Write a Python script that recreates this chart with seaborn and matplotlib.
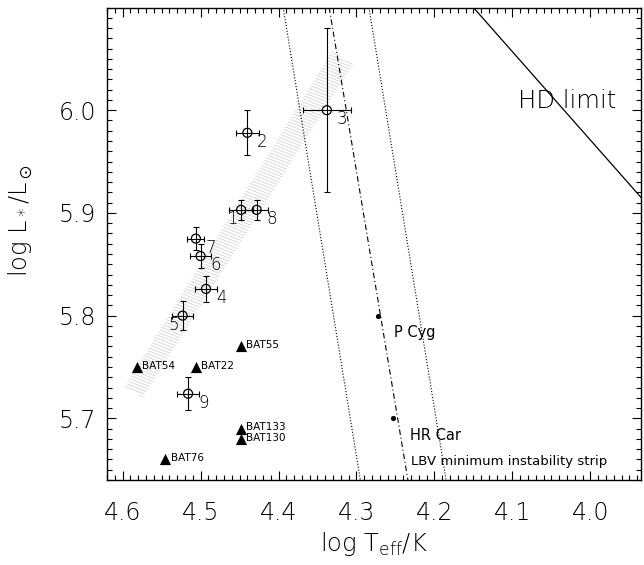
import matplotlib
matplotlib.use("Agg")
import matplotlib.pyplot as plt
from matplotlib.patches import Polygon
from matplotlib.collections import LineCollection
from matplotlib.ticker import MultipleLocator, FormatStrFormatter
import seaborn as sns
import pandas as pd
import numpy as np

# numbered stars with error bars
star_ids = ["1", "2", "3", "4", "5", "6", "7", "8", "9"]
star_logT = [4.448, 4.440, 4.338, 4.493, 4.523, 4.500, 4.506, 4.428, 4.516]
star_logL = [5.903, 5.978, 6.000, 5.826, 5.800, 5.858, 5.875, 5.903, 5.724]
star_dT = [0.015, 0.015, 0.031, 0.014, 0.013, 0.013, 0.011, 0.015, 0.014]
star_dL = [0.010, 0.022, 0.080, 0.013, 0.014, 0.012, 0.011, 0.010, 0.016]

# BAT stars (filled triangles)
bat_names = ["BAT54", "BAT22", "BAT55", "BAT133", "BAT130", "BAT76"]
bat_logT = [4.582, 4.506, 4.448, 4.448, 4.448, 4.545]
bat_logL = [5.75, 5.75, 5.77, 5.69, 5.68, 5.66]

# known LBVs on the strip
lbv_names = ["P Cyg", "HR Car"]
lbv_logT = [4.273, 4.253]
lbv_logL = [5.80, 5.70]

# LBV minimum instability strip (centre and edges)
strip_logL = [6.10, 5.64]
strip_mid_logT = [4.335, 4.234]
strip_lo_logT = [4.394, 4.295]
strip_hi_logT = [4.284, 4.185]

# Humphreys-Davidson limit
hd_logT = [4.150, 3.900]
hd_logL = [6.100, 5.885]

# hatched band
band_logT = [4.331, 4.304, 4.574, 4.597]
band_logL = [6.058, 6.045, 5.7205, 5.731]

sns.set_style("ticks")
plt.rcParams["font.family"] = ["DejaVu Sans"]
plt.rcParams["font.weight"] = "light"
plt.rcParams["axes.labelweight"] = "light"
plt.rcParams["mathtext.fontset"] = "custom"
plt.rcParams["mathtext.rm"] = "DejaVu Sans:light"
plt.rcParams["mathtext.it"] = "DejaVu Sans:light"
plt.rcParams["mathtext.sf"] = "DejaVu Sans:light"
plt.rcParams["mathtext.fallback"] = "stix"
for key in ["text.color", "axes.labelcolor", "xtick.color", "ytick.color"]:
    plt.rcParams[key] = "black"

fig = plt.figure(figsize=(6.44, 5.65), dpi=100)
ax = fig.add_axes([107 / 644, 1 - 480 / 565, 534 / 644, 472 / 565])

# band outline is invisible, only used to clip the fine hatch lines
band = Polygon(list(zip(band_logT, band_logL)), closed=True, fill=False,
               lw=0, zorder=0)
ax.add_patch(band)
offs = np.arange(-0.5, 1.6, 0.0068)
hatch = LineCollection([[(0, c), (1, c - 0.457)] for c in offs],
                       colors="#d4d4d4", linewidths=0.6,
                       transform=ax.transAxes, zorder=0)
hatch.set_clip_path(band)
ax.add_collection(hatch, autolim=False)

ax.plot(strip_lo_logT, strip_logL, ls=":", color="black", lw=0.8)
ax.plot(strip_hi_logT, strip_logL, ls=":", color="black", lw=0.8)
ax.plot(strip_mid_logT, strip_logL, color="black", lw=0.8, dashes=(5, 2.5, 1, 2.5))
ax.plot(hd_logT, hd_logL, color="black", lw=0.9)

ax.errorbar(star_logT, star_logL, xerr=star_dT, yerr=star_dL, fmt="none",
            ecolor="black", elinewidth=0.8, capsize=2.5, capthick=0.8)
stars = pd.DataFrame({"logT": star_logT, "logL": star_logL})
sns.scatterplot(data=stars, x="logT", y="logL", ax=ax, marker="o", s=42,
                facecolor="none", edgecolor="black", linewidth=0.9, zorder=3)
for name, x, y in zip(star_ids, star_logT, star_logL):
    off = (-6.5, -6.5) if name in ("1", "5") else (11, -6.5)
    ax.annotate(name, (x, y), xytext=off, textcoords="offset points",
                ha="center", va="center", fontsize=12)

bats = pd.DataFrame({"logT": bat_logT, "logL": bat_logL})
sns.scatterplot(data=bats, x="logT", y="logL", ax=ax, marker="^", s=65,
                color="black", linewidth=0, zorder=3)
for name, x, y in zip(bat_names, bat_logT, bat_logL):
    ax.annotate(name, (x, y), xytext=(3.8, 1), textcoords="offset points",
                ha="left", va="center", fontsize=7.5, fontweight="normal")

lbvs = pd.DataFrame({"logT": lbv_logT, "logL": lbv_logL})
sns.scatterplot(data=lbvs, x="logT", y="logL", ax=ax, marker="o", s=14,
                color="black", linewidth=0, zorder=3)
for name, x, y in zip(lbv_names, lbv_logT, lbv_logL):
    ax.annotate(name, (x, y), xytext=(12, -12), textcoords="offset points",
                ha="left", va="center", fontsize=10.5, fontweight="normal")

ax.text(4.23, 5.658, "LBV minimum instability strip", ha="left", va="center",
        fontsize=9.5, fontweight="normal")
ax.text(4.093, 6.009, "HD limit", ha="left", va="center", fontsize=17.5)

ax.set_xlim(4.62, 3.935)
ax.set_ylim(5.64, 6.0995)
ax.xaxis.set_major_locator(MultipleLocator(0.1))
ax.xaxis.set_minor_locator(MultipleLocator(0.01))
ax.yaxis.set_major_locator(MultipleLocator(0.1))
ax.yaxis.set_minor_locator(MultipleLocator(0.01))
ax.xaxis.set_major_formatter(FormatStrFormatter("%.1f"))
ax.yaxis.set_major_formatter(FormatStrFormatter("%.1f"))
ax.tick_params(which="both", direction="in", top=True, right=True, width=0.8,
               colors="black")
ax.tick_params(which="major", length=6.5, labelsize=17)
ax.tick_params(which="minor", length=3.5)
ax.tick_params(axis="x", which="major", pad=15)
ax.tick_params(axis="y", which="major", pad=8)
for sp in ax.spines.values():
    sp.set_linewidth(1.0)
    sp.set_color("black")

ax.set_xlabel(r"log T$_{\rm eff}$/K", fontsize=17.5)
ax.set_ylabel(r"log L$_*$/L$_\odot$", fontsize=17.5)
ax.xaxis.set_label_coords(0.5, -0.105)
ax.yaxis.set_label_coords(-0.135, 0.55)

fig.savefig("out.png", dpi=100)
